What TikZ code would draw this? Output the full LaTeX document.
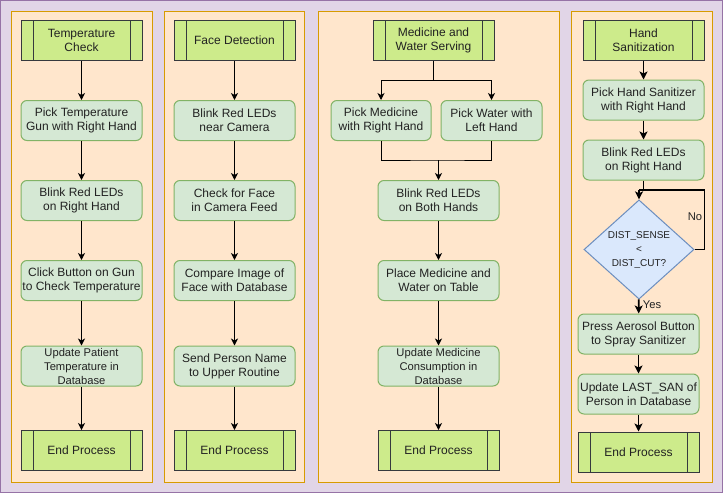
\documentclass[tikz,border=0pt]{standalone}
\usepackage{fontspec}
\setmainfont{Liberation Sans}
\usetikzlibrary{arrows.meta, positioning, shapes.geometric}

\definecolor{bgfill}{HTML}{E1D5E7}
\definecolor{bgline}{HTML}{9673A6}
\definecolor{panelfill}{HTML}{FFE6CC}
\definecolor{panelline}{HTML}{D79B00}
\definecolor{hdrfill}{HTML}{CDEB8B}
\definecolor{hdrline}{HTML}{36393D}
\definecolor{procfill}{HTML}{D5E8D4}
\definecolor{procline}{HTML}{82B366}
\definecolor{decfill}{HTML}{DAE8FC}
\definecolor{decline}{HTML}{6C8EBF}
\definecolor{txt}{HTML}{222222}

\tikzset{
  hdr/.style={rectangle, draw=hdrline, fill=hdrfill, line width=1pt,
    minimum width=121pt, minimum height=40pt, inner sep=0pt, align=center,
    path picture={\draw[hdrline, line width=1pt]
      ([xshift=12pt]path picture bounding box.north west) -- ([xshift=12pt]path picture bounding box.south west)
      ([xshift=-12pt]path picture bounding box.north east) -- ([xshift=-12pt]path picture bounding box.south east);}},
  proc/.style={rectangle, rounded corners=6pt, draw=procline, fill=procfill, line width=1pt,
    minimum width=121pt, minimum height=40pt, inner sep=0pt, align=center},
  dec/.style={diamond, draw=decline, fill=decfill, line width=1pt,
    minimum width=110pt, minimum height=89pt, inner sep=0pt, align=center,
    font=\fontsize{10}{14}\selectfont},
  panel/.style={fill=panelfill, draw=panelline, line width=1pt},
  flow/.style={-{Stealth[length=7pt, width=7pt, inset=2pt]}, line width=1pt},
  flowb/.style={-{Stealth[length=8pt, width=8pt, inset=2pt]}, line width=1.8pt},
  small/.style={font=\fontsize{11.2}{14}\selectfont},
}

\begin{document}
\begin{tikzpicture}[x=1pt, y=-1pt, every node/.style={text=txt, font=\fontsize{12}{14}\selectfont}]
  \useasboundingbox (0,0) rectangle (723,493);
  % background and lanes
  \fill[bgfill, draw=bgline, line width=1pt] (0.5,0.5) rectangle (722.5,492.5);
  \draw[panel] (11,11) rectangle (152,482);
  \draw[panel] (164,11) rectangle (304,482);
  \draw[panel] (318,11) rectangle (559,482);
  \draw[panel] (571,11) rectangle (712,482);

  % temperature check
  \node[hdr]  (t0) at (81.5,40.5)  {Temperature\\Check};
  \node[proc] (t1) at (81.5,120.5) {Pick Temperature\\Gun with Right Hand};
  \node[proc] (t2) at (81.5,200.5) {Blink Red LEDs\\on Right Hand};
  \node[proc] (t3) at (81.5,280.5) {Click Button on Gun\\to Check Temperature};
  \node[proc, small] (t4) at (81.5,366) {Update Patient\\Temperature in\\Database};
  \node[hdr]  (t5) at (81.5,450.5) {End Process};
  \foreach \a/\b in {t0/t1, t1/t2, t2/t3, t3/t4, t4/t5}
    \draw[flow] (\a) -- (\b);

  % face detection
  \node[hdr]  (f0) at (234.5,40.5)  {Face Detection};
  \node[proc] (f1) at (234.5,120.5) {Blink Red LEDs\\near Camera};
  \node[proc] (f2) at (234.5,200.5) {Check for Face\\in Camera Feed};
  \node[proc] (f3) at (234.5,280.5) {Compare Image of\\Face with Database};
  \node[proc] (f4) at (234.5,366)   {Send Person Name\\to Upper Routine};
  \node[hdr]  (f5) at (234.5,450.5) {End Process};
  \foreach \a/\b in {f0/f1, f1/f2, f2/f3, f3/f4, f4/f5}
    \draw[flow] (\a) -- (\b);

  % medicine and water
  \node[hdr]  (m0) at (433.5,40.5) {Medicine and\\Water Serving};
  \node[proc, minimum width=100pt] (m1) at (381,120.5)   {Pick Medicine\\with Right Hand};
  \node[proc, minimum width=101pt] (m2) at (491.5,120.5) {Pick Water with\\Left Hand};
  \node[proc] (m3) at (438.5,200.5) {Blink Red LEDs\\on Both Hands};
  \node[proc] (m4) at (438.5,280.5) {Place Medicine and\\Water on Table};
  \node[proc, small] (m5) at (438.5,366) {Update Medicine\\Consumption in\\Database};
  \node[hdr]  (m6) at (438.5,450.5) {End Process};
  \coordinate (msplit) at (433.5,80);
  \coordinate (mjoin) at (438.5,160);
  \draw[line width=1pt] (m0) -- (msplit);
  \draw[flow] (msplit) -| (m1);
  \draw[flow] (msplit) -| (m2);
  \draw[line width=1pt] (m1) |- (mjoin) -| (m2);
  \foreach \a/\b in {mjoin/m3, m3/m4, m4/m5, m5/m6}
    \draw[flow] (\a) -- (\b);

  % hand sanitization
  \node[hdr]  (h0) at (643.5,40.5) {Hand\\Sanitization};
  \node[proc] (h1) at (643.5,100)  {Pick Hand Sanitizer\\with Right Hand};
  \node[proc] (h2) at (643.5,160)  {Blink Red LEDs\\on Right Hand};
  \node[dec]  (h3) at (639,249.5)  {DIST\_SENSE\\<\\DIST\_CUT?};
  \node[proc] (h4) at (638.5,334)  {Press Aerosol Button\\to Spray Sanitizer};
  \node[proc] (h5) at (638.5,394)  {Update LAST\_SAN of\\Person in Database};
  \node[hdr]  (h6) at (638.5,452)  {End Process};
  \coordinate (hjoin) at (639,190);
  \draw[flowb] (h0) -- (h1);
  \draw[flowb] (h1) -- (h2);
  \draw[line width=1.8pt] (h2.south) |- (hjoin);
  \draw[flowb] (hjoin) -- (h3);
  \draw[line width=1.8pt] (h3.east) -- ++(10,0) |- (hjoin);
  \node[small] (nolbl) at (695,217) {No};
  \draw[flowb] (h3) -- node[small, right, pos=0.35] (yeslbl) {Yes} (h4);
  \draw[flowb] (h4) -- (h5);
  \draw[flowb] (h5) -- (h6);
\end{tikzpicture}
\end{document}
